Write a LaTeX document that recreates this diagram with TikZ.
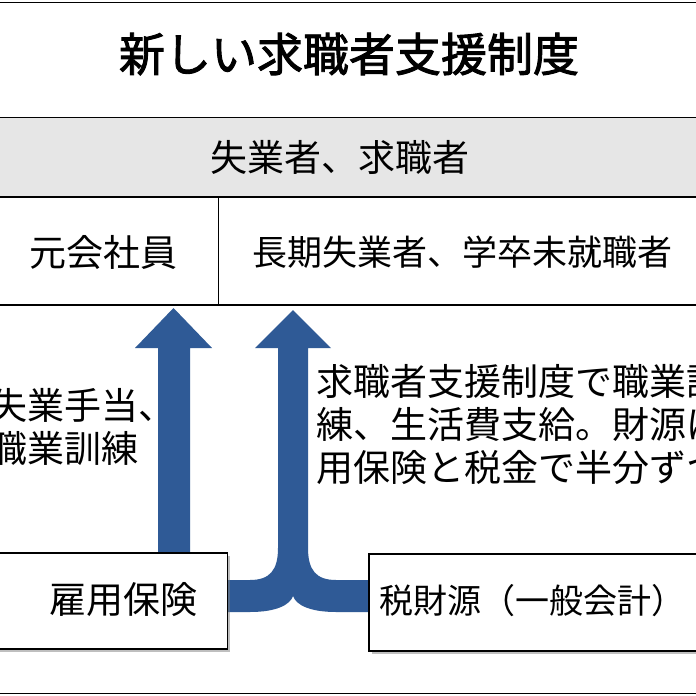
\documentclass[tikz,border=0pt]{standalone}
\usepackage{fontspec}
\newfontfamily\jp{Noto Sans CJK JP}
\newfontfamily\jpb{Noto Sans CJK JP}[FakeBold=2]
\usetikzlibrary{shadows}
\definecolor{arrowblue}{HTML}{2F5A96}
\definecolor{band}{HTML}{E6E6E6}
\begin{document}
\begin{tikzpicture}[x=1pt,y=-1pt,
  txt/.style={font=\jp\fontsize{37}{43}\selectfont, inner sep=0pt},
  box/.style={draw=black, line width=1.5pt, fill=white, drop shadow={shadow xshift=3pt,shadow yshift=-3pt,opacity=0.5}},
  arr/.style={fill=arrowblue, draw=none}]
\useasboundingbox (0,0) rectangle (696,696);
\clip (0,0) rectangle (696,696);
\fill[white] (0,0) rectangle (696,696);
\draw[line width=1pt] (-5,2) rectangle (701,693);
\node[font=\jpb\fontsize{46}{52}\selectfont, inner sep=0pt] (title) at (349,54) {新しい求職者支援制度};
\fill[band] (-5,117) rectangle (701,197);
\draw[line width=1pt] (-5,117) -- (701,117);
\draw[line width=1.2pt] (-5,197) -- (701,197);
\draw[line width=2.5pt] (-5,305) -- (701,305);
\draw[line width=0.8pt] (218,197) -- (218,305);
\node[txt] (seekers) at (340,157) {失業者、求職者};
\node[txt] (former) at (103,252) {元会社員};
\node[txt, font=\jp\fontsize{35}{43}\selectfont] (longterm) at (462,252) {長期失業者、学卒未就職者};
% left arrow
\fill[arr] (158,560) -- (158,348) -- (135,348) -- (173.5,308) -- (212,348) -- (190,348) -- (190,560) -- cycle;
% merging arrow
\fill[arr] (220,580) -- (250,580) .. controls (270,580) and (278,570) .. (278,548) -- (278,348) -- (255,348) -- (293,310) -- (331,348) -- (308,348) -- (308,548) .. controls (308,570) and (316,580) .. (336,580) -- (375,580) -- (375,612) -- (336,612) .. controls (310,612) and (296,605) .. (293,596) .. controls (290,605) and (276,612) .. (250,612) -- (220,612) -- cycle;
\node[box, minimum width=240pt, minimum height=96pt, anchor=north east, inner sep=0pt] (hoken) at (228,552) {};
\node[txt, anchor=east] at (198,600) {雇用保険};
\node[box, minimum width=340pt, minimum height=97pt, anchor=north west] (zei) at (368,553) {};
\node[txt, font=\jp\fontsize{34}{43}\selectfont, anchor=west] at (379,601) {税財源（一般会計）};
\node[txt, anchor=north west, align=left] (lefttxt) at (-10,388) {失業手当、\\職業訓練};
\node[txt, anchor=north west, align=left] (righttxt) at (316,364) {求職者支援制度で職業訓\\練、生活費支給。財源は雇\\用保険と税金で半分ずつ};
\end{tikzpicture}
\end{document}
